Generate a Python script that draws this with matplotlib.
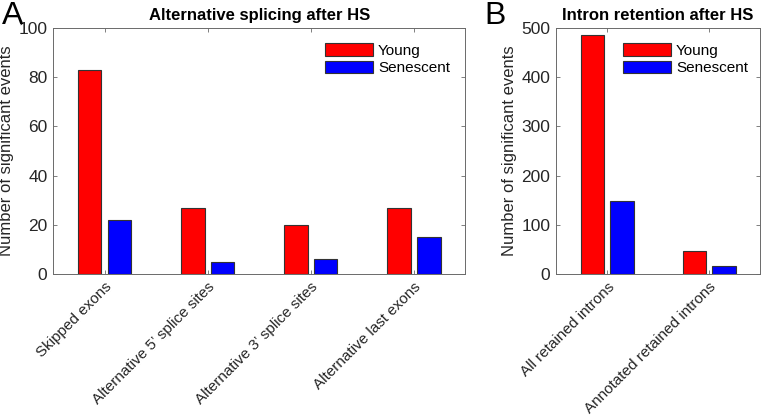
import numpy as np
import matplotlib
matplotlib.use('Agg')
import matplotlib.pyplot as plt

plt.rcParams['font.family'] = ['Liberation Sans', 'DejaVu Sans']

###############################################################################
# Data
splice_types = ['Skipped exons', "Alternative 5\u2019 splice sites",
                "Alternative 3\u2019 splice sites", 'Alternative last exons']
splice_young = [83, 27, 20, 27]
splice_senescent = [22, 5, 6, 15]

intron_types = ['All retained introns', 'Annotated retained introns']
intron_young = [485, 46]
intron_senescent = [148, 16]

groups = ['Young', 'Senescent']
colors = ['#ff0000', '#0000ff']

###############################################################################
fig = plt.figure(figsize=(7.62, 4.2), dpi=100)
ax_a = fig.add_axes([0.0696, 0.3476, 0.541, 0.5857])
ax_b = fig.add_axes([0.7297, 0.3476, 0.268, 0.5857])

spine_col = '#6a6a6a'
text_col = '#262626'


def grouped_bars(ax, labels, young, sen, ymax, yticks):
    x = np.arange(1, len(labels) + 1)
    w = 0.23
    off = 0.145
    ax.bar(x - off, young, w, color=colors[0], edgecolor='#333333',
           linewidth=0.8, label=groups[0])
    ax.bar(x + off, sen, w, color=colors[1], edgecolor='#333333',
           linewidth=0.8, label=groups[1])
    ax.set_xlim(0.5, len(labels) + 0.5)
    ax.set_ylim(0, ymax)
    ax.set_yticks(yticks)
    ax.set_xticks(x)
    ax.set_xticklabels(labels, rotation=45, ha='right',
                       rotation_mode='anchor', fontsize=11)
    ax.tick_params(axis='y', labelsize=12.5)
    ax.tick_params(direction='in', length=3, width=0.6, color=spine_col,
                   labelcolor=text_col, top=True, right=True, pad=4)
    for s in ax.spines.values():
        s.set_color(spine_col)
        s.set_linewidth(0.7)
    ax.set_ylabel('Number of significant events', fontsize=12,
                  color=text_col, labelpad=3)


def add_legend(ax):
    ax.legend(loc='upper right', bbox_to_anchor=(0.985, 0.975),
              frameon=False, fontsize=11, handlelength=3.1,
              handleheight=0.85, handletextpad=0.35, labelspacing=0.2,
              borderaxespad=0.2)


grouped_bars(ax_a, splice_types, splice_young, splice_senescent,
             100, [0, 20, 40, 60, 80, 100])
ax_a.set_title('Alternative splicing after HS', fontsize=12,
               fontweight='bold', pad=6)
add_legend(ax_a)

grouped_bars(ax_b, intron_types, intron_young, intron_senescent,
             500, [0, 100, 200, 300, 400, 500])
ax_b.set_title('Intron retention after HS', fontsize=12,
               fontweight='bold', pad=6)
add_legend(ax_b)

# panel letters
fig.text(0.002, 0.962, 'A', fontsize=23, va='center', ha='left')
fig.text(0.636, 0.962, 'B', fontsize=23, va='center', ha='left')

fig.savefig('out.png', dpi=100)
